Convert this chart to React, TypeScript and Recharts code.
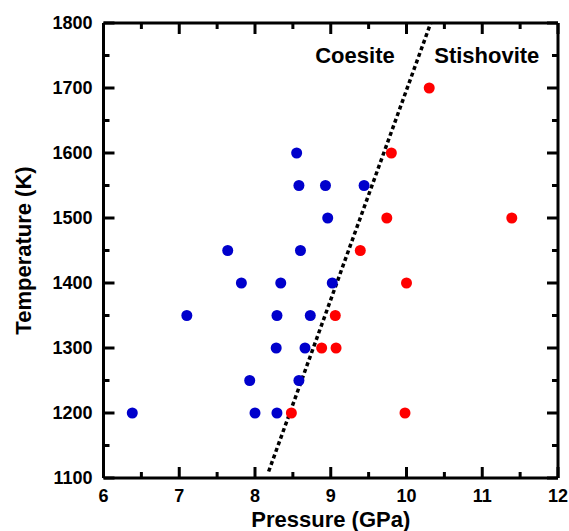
import { ScatterChart, Scatter, XAxis, YAxis, ReferenceDot } from 'recharts';

// Pressure (GPa) / temperature (K) of each run
const coesitePressure = [6.38, 7.1, 7.64, 7.82, 7.93, 8.0, 8.29, 8.28, 8.29, 8.34, 8.55, 8.58, 8.6, 8.58, 8.66, 8.73, 8.93, 8.96, 9.02, 9.44];
const coesiteTemperature = [1200, 1350, 1450, 1400, 1250, 1200, 1350, 1300, 1200, 1400, 1600, 1550, 1450, 1250, 1300, 1350, 1550, 1500, 1400, 1550];

const stishovitePressure = [10.3, 9.8, 9.74, 11.39, 9.39, 10.0, 9.06, 8.88, 9.07, 8.48, 9.98];
const stishoviteTemperature = [1700, 1600, 1500, 1500, 1450, 1400, 1350, 1300, 1300, 1200, 1200];

// coesite / stishovite phase boundary
const boundaryPressure = [8.18, 10.32];
const boundaryTemperature = [1110, 1800];

const pressureTicks = [6, 6.5, 7, 7.5, 8, 8.5, 9, 9.5, 10, 10.5, 11, 11.5, 12];
const temperatureTicks = [1100, 1150, 1200, 1250, 1300, 1350, 1400, 1450, 1500, 1550, 1600, 1650, 1700, 1750, 1800];

const toPoints = (p: number[], t: number[]) => p.map((v, i) => ({ p: v, t: t[i] }));

const coesite = toPoints(coesitePressure, coesiteTemperature);
const stishovite = toPoints(stishovitePressure, stishoviteTemperature);
const boundary = toPoints(boundaryPressure, boundaryTemperature);

const FONT = '"Liberation Sans", Arial, Helvetica, sans-serif';
const MAJOR = 11;
const MINOR = 6;
const GAP = 11;

const tickLen = (v: number, step: number) => (Math.abs(v / step - Math.round(v / step)) < 1e-6 ? MAJOR : MINOR);

function BottomTick({ x, y, payload }: any) {
  const v = payload.value;
  const len = tickLen(v, 1);
  const axisY = y - GAP;
  return (
    <g>
      <line x1={x} x2={x} y1={axisY} y2={axisY - len} stroke="#000" strokeWidth={3} />
      {len === MAJOR && (
        <text x={x} y={axisY + 24} textAnchor="middle" fontFamily={FONT} fontWeight="bold" fontSize={18} fill="#000">
          {v}
        </text>
      )}
    </g>
  );
}

function LeftTick({ x, y, payload }: any) {
  const v = payload.value;
  const len = tickLen(v, 100);
  const axisX = x + GAP;
  return (
    <g>
      <line x1={axisX} x2={axisX + len} y1={y} y2={y} stroke="#000" strokeWidth={3} />
      {len === MAJOR && (
        <text x={x} y={y} dy="0.36em" textAnchor="end" fontFamily={FONT} fontWeight="bold" fontSize={18} fill="#000">
          {v}
        </text>
      )}
    </g>
  );
}

// mirrored axes: axis line sits 1px off the tick origin (height/width 1)
function TopTick({ x, y, payload }: any) {
  const len = tickLen(payload.value, 1);
  return <line x1={x} x2={x} y1={y} y2={y + len} stroke="#000" strokeWidth={3} />;
}

function RightTick({ x, y, payload }: any) {
  const len = tickLen(payload.value, 100);
  return <line x1={x} x2={x - len} y1={y} y2={y} stroke="#000" strokeWidth={3} />;
}

const dot = (color: string) => (props: any) => <circle cx={props.cx} cy={props.cy} r={5.5} fill={color} />;

const axisLine = { stroke: '#000', strokeWidth: 3 };
const labelStyle = { fontFamily: FONT, fontWeight: 'bold', fontSize: 22, fill: '#000' };

export default function App() {
  return (
    <div style={{ position: 'absolute', left: 0, top: 0, width: 569, height: 531, background: '#fff' }}>
      <ScatterChart width={569} height={531} margin={{ top: 22, right: 10, bottom: 0, left: 0 }}>
        <XAxis
          type="number"
          dataKey="p"
          domain={[6, 12]}
          ticks={pressureTicks}
          interval={0}
          height={53}
          tickSize={0}
          tickMargin={GAP}
          tickLine={false}
          axisLine={axisLine}
          tick={<BottomTick />}
          label={{ value: 'Pressure (GPa)', position: 'insideBottom', offset: 4, ...labelStyle }}
        />
        <XAxis
          xAxisId="top"
          orientation="top"
          type="number"
          dataKey="p"
          domain={[6, 12]}
          ticks={pressureTicks}
          interval={0}
          height={1}
          tickSize={0}
          tickMargin={0}
          tickLine={false}
          axisLine={axisLine}
          tick={<TopTick />}
        />
        <YAxis
          type="number"
          dataKey="t"
          domain={[1100, 1800]}
          ticks={temperatureTicks}
          interval={0}
          width={103.5}
          tickSize={0}
          tickMargin={GAP}
          tickLine={false}
          axisLine={axisLine}
          tick={<LeftTick />}
          label={{ value: 'Temperature (K)', angle: -90, position: 'insideLeft', offset: 23, style: { textAnchor: 'middle' }, ...labelStyle }}
        />
        <YAxis
          yAxisId="right"
          orientation="right"
          type="number"
          dataKey="t"
          domain={[1100, 1800]}
          ticks={temperatureTicks}
          interval={0}
          width={1}
          tickSize={0}
          tickMargin={0}
          tickLine={false}
          axisLine={axisLine}
          tick={<RightTick />}
        />
        <Scatter
          data={boundary}
          line={{ stroke: '#000', strokeWidth: 3.5, strokeDasharray: '4 3' }}
          shape={() => <g />}
          isAnimationActive={false}
        />
        <Scatter data={coesite} shape={dot('#0000cc')} isAnimationActive={false} />
        <Scatter data={stishovite} shape={dot('#ff0000')} isAnimationActive={false} />
        <Scatter data={boundary} xAxisId="top" yAxisId="right" shape={() => <g />} isAnimationActive={false} />
        <ReferenceDot x={9.32} y={1751} r={0} label={{ value: 'Coesite', position: 'center', ...labelStyle }} />
        <ReferenceDot x={11.06} y={1751} r={0} label={{ value: 'Stishovite', position: 'center', ...labelStyle }} />
      </ScatterChart>
    </div>
  );
}
